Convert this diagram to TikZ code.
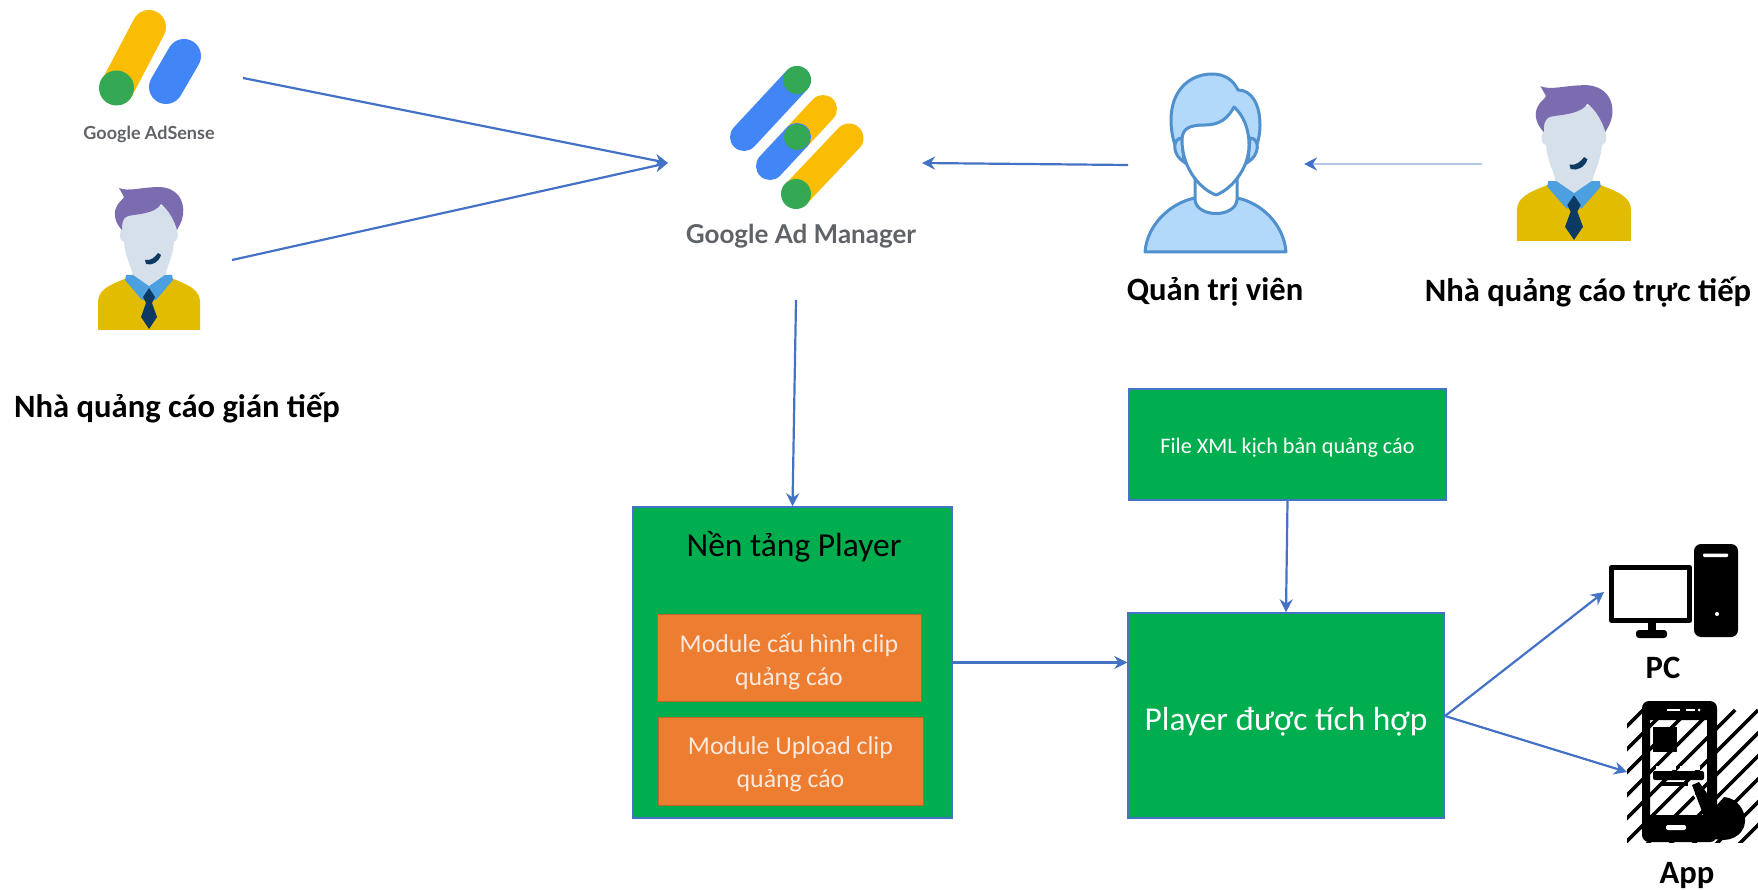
\documentclass[tikz,border=0pt]{standalone}
\usepackage{fontspec}
\setmainfont{Carlito}
\newfontfamily\logofont{Lato}
\usetikzlibrary{arrows.meta}
\definecolor{linkblue}{HTML}{4472C4}
\definecolor{palelink}{HTML}{B4C7E7}
\definecolor{boxgreen}{HTML}{00AD4F}
\definecolor{boxorange}{HTML}{ED7D31}
\definecolor{orangeedge}{HTML}{B9652A}
\definecolor{gyellow}{HTML}{FBBC04}
\definecolor{gblue}{HTML}{4285F4}
\definecolor{ggreen}{HTML}{34A853}
\definecolor{loggray}{HTML}{5F6368}
\definecolor{shirt}{HTML}{E2BC00}
\definecolor{collar}{HTML}{4DA0E0}
\definecolor{tie}{HTML}{0D3A63}
\definecolor{skin}{HTML}{D6E0EB}
\definecolor{hair}{HTML}{7B6BAF}
\definecolor{adminline}{HTML}{4F90CD}
\definecolor{adminfill}{HTML}{B3D9FA}
\definecolor{softwhite}{HTML}{FBE9DD}
\tikzset{
  x=1pt,y=-1pt,
  link/.style={draw=linkblue,line width=2.2pt,-{Stealth[length=13pt,width=13pt]}},
  palearrow/.style={draw=palelink,line width=2.6pt,-{Stealth[length=13pt,width=13pt,color=linkblue]}},
  greenbox/.style={draw=linkblue,line width=1.4pt,fill=boxgreen,inner sep=0pt},
  orangebox/.style={draw=orangeedge,line width=1pt,fill=boxorange,inner sep=0pt,
    text=softwhite,align=center,font=\fontsize{25.8}{33}\selectfont},
  heading/.style={font=\bfseries\fontsize{32.6}{38}\selectfont,text=black,inner sep=0pt},
  capsule/.style={line width=#1,line cap=round},
  person/.pic={
    \fill[shirt] (-51,0) -- (-51,-28) .. controls (-51,-40) and (-40,-45) .. (-22,-52)
      -- (22,-52) .. controls (40,-45) and (51,-40) .. (51,-28) -- (51,0) -- cycle;
    \fill[collar] (-23,-55) -- (23,-55) -- (24,-50) -- (7,-30) -- (-7,-30) -- (-24,-50) -- cycle;
    \fill[skin] (-28,-100) -- (-27,-118) .. controls (-15,-128) and (15,-128) .. (26,-118)
      -- (28,-100) .. controls (30,-92) and (28,-90) .. (25,-88) .. controls (24,-75) and (19,-65) .. (17,-58)
      -- (17,-56) -- (0,-44) -- (-17,-56) -- (-17,-58) .. controls (-19,-65) and (-24,-75) .. (-25,-88)
      .. controls (-29,-90) and (-30,-92) .. (-28,-100) -- cycle;
    \fill[hair] (-30,-142) .. controls (-20,-138) and (-8,-143) .. (11,-143)
      .. controls (28,-142) and (36,-130) .. (34,-115) .. controls (33,-108) and (30,-104) .. (28,-100)
      .. controls (26,-108) and (20,-120) .. (12,-126) .. controls (6,-116) and (-12,-116) .. (-21,-114)
      .. controls (-27,-112) and (-27,-106) .. (-27,-100) .. controls (-33,-106) and (-36,-115) .. (-33,-122)
      .. controls (-31,-128) and (-26,-130) .. (-25,-133) -- cycle;
    \fill[tie] (-4,-70) .. controls (2,-69) and (6,-73) .. (9,-77) -- (12,-75)
      .. controls (10,-68) and (3,-64) .. (-3,-66) -- cycle;
    \fill[tie] (0,-42) -- (6,-33) -- (3,-27) -- (8,-13) -- (0,-1) -- (-8,-13) -- (-3,-27) -- (-6,-33) -- cycle;
  }
}
\begin{document}
\begin{tikzpicture}
\useasboundingbox (0,0) rectangle (1758,890);
% AdSense logo
\draw[gyellow,capsule=34pt] (149,27) -- (117,88);
\draw[gblue,capsule=34pt] (184,56) -- (166,87);
\fill[ggreen] (116.5,88) circle (17.5);
\node[font=\logofont\bfseries\fontsize{18}{22}\selectfont,text=loggray,inner sep=0pt] (adsense) at (149,134) {Google AdSense};
% indirect advertiser
\pic at (149,330) {person};
\node[heading,anchor=west] (indirect) at (14,408) {Nhà quảng cáo gián tiếp};
% Ad Manager logo
\draw[gblue,capsule=28pt] (797,80) -- (744,137);
\draw[gyellow,capsule=28pt] (823,109) -- (797,137);
\draw[gblue,capsule=28pt] (797,137) -- (770,166);
\draw[gyellow,capsule=29pt] (849,138) -- (796,194);
\fill[ggreen] (797,80) circle (14);
\fill[ggreen] (797,137) circle (13);
\fill[ggreen] (796,194) circle (15);
\node[font=\logofont\bfseries\fontsize{26}{33}\selectfont,text=loggray,inner sep=0pt] (gam) at (801,236) {Google Ad Manager};
% admin
\draw[adminline,line width=3pt,fill=adminfill,line join=round]
  (1145,252) .. controls (1147,225) and (1170,203) .. (1195,198)
  -- (1237,198) .. controls (1262,203) and (1284,225) .. (1286,252) -- cycle;
\draw[adminline,line width=3pt,fill=white] (1195,180) -- (1195,200) .. controls (1197,218) and (1235,218) .. (1237,200) -- (1237,180) -- cycle;
\draw[adminline,line width=3pt,fill=adminfill,line join=round]
  (1183,160) .. controls (1175,150) and (1171,135) .. (1171,120)
  .. controls (1171,90) and (1190,74) .. (1212,74)
  .. controls (1225,74) and (1233,80) .. (1238,90)
  .. controls (1252,90) and (1260,105) .. (1260,125)
  .. controls (1260,140) and (1255,152) .. (1249,160) -- cycle;
\draw[adminline,line width=3pt,fill=adminfill] (1182,138) .. controls (1172,138) and (1172,155) .. (1184,162) -- cycle;
\draw[adminline,line width=3pt,fill=adminfill] (1250,138) .. controls (1260,138) and (1260,155) .. (1248,162) -- cycle;
\draw[adminline,line width=3pt,fill=white,line join=round]
  (1182,140) .. controls (1182,128) and (1190,125) .. (1205,125)
  .. controls (1220,125) and (1228,118) .. (1234,107)
  .. controls (1243,115) and (1249,128) .. (1249,145)
  .. controls (1249,170) and (1230,190) .. (1216,195)
  .. controls (1202,190) and (1182,170) .. (1182,140) -- cycle;
\node[heading,text=black] (admin) at (1215,292) {Quản trị viên};
% direct advertiser
\pic[xscale=1.12,yscale=1.09] at (1574,241) {person};
\node[heading] (direct) at (1588,292) {Nhà quảng cáo trực tiếp};
% boxes
\node[greenbox,minimum width=319pt,minimum height=311pt] (platform) at (792.5,662.5) {};
\node[font=\fontsize{33.5}{40}\selectfont,text=black,inner sep=0pt] (ptitle) at (794,547) {Nền tảng Player};
\node[orangebox,minimum width=264pt,minimum height=87pt] (modcfg) at (789,657.5) {\rule{0pt}{28pt}Module cấu hình clip\\quảng cáo};
\node[orangebox,minimum width=265pt,minimum height=88pt] (modup) at (790.5,761) {\rule{0pt}{25pt}Module Upload clip\\quảng cáo};
\node[greenbox,minimum width=317pt,minimum height=111pt,text=white,font=\fontsize{22.2}{25}\selectfont,text height=21pt,text depth=4pt] (xml) at (1287.5,444.5) {File XML kịch bản quảng cáo};
\node[greenbox,minimum width=316pt,minimum height=205pt,text=white,font=\fontsize{33.4}{37}\selectfont,text height=33pt,text depth=4pt] (integrated) at (1286,715.5) {Player được tích hợp};
% PC
\draw[black,line width=5pt,line join=round,fill=white] (1611.5,567.5) rectangle (1689.5,620.5);
\fill[black] (1648,620) rectangle (1656,632);
\fill[black,rounded corners=3pt] (1636,630) rectangle (1667,638);
\fill[black,rounded corners=7pt] (1694,544) rectangle (1738,637);
\fill[white,rounded corners=1pt] (1703,553.5) rectangle (1728,557);
\fill[white] (1717,614) circle (2);
\node[heading] (pclabel) at (1663,668) {PC};
% App
\begin{scope}
  \clip (1627,701) rectangle (1758,842);
  \foreach \k in {0,23,...,368} {
    \draw[black,line width=3.5pt] (1610+\k,720) ++(-150,150) -- ++(160,-160);
  }
\end{scope}
\fill[black,even odd rule,rounded corners=7pt] (1642,701) rectangle (1717,842)
  [sharp corners] (1650,720) rectangle (1707,815);
\fill[black] (1653,727) rectangle (1677,752);
\fill[white] (1667,709) rectangle (1680,711);
\fill[white] (1686,709) rectangle (1695,711);
\fill[white] (1699,710) circle (1.5);
\fill[white,rounded corners=2pt] (1666,825) rectangle (1686,830);
\fill[white] (1656,766) rectangle (1676,770);
\fill[white] (1680,766) rectangle (1700,770);
\fill[black,rounded corners=2pt] (1653,771) rectangle (1704,780);
\fill[black] (1660,782) rectangle (1688,786);
\draw[white,line width=2pt] (1689,787) -- (1708,815);
\fill[black] (1692,785) -- (1699,782) -- (1716,806) -- (1724,797)
  .. controls (1738,798) and (1746,812) .. (1745,822)
  .. controls (1744,836) and (1728,844) .. (1712,838) -- cycle;
\node[heading] (applabel) at (1687,875) {App};
% free ends of connectors
\coordinate (adsenseout) at (243,78);
\coordinate (indirectout) at (232,260);
\coordinate (gamin) at (668,163);
\coordinate (gamright) at (922,163);
\coordinate (adminleft) at (1128,165);
\coordinate (adminright) at (1304,164);
\coordinate (directleft) at (1482,164);
\coordinate (gamout) at (796,300);
\coordinate (pcin) at (1604,592);
\coordinate (appin) at (1627,772);
\coordinate (fork) at (1445,716);
\draw[link] (adsenseout) -- (gamin);
\draw[link] (indirectout) -- (gamin);
\draw[link] (adminleft) -- (gamright);
\draw[palearrow] (directleft) -- (adminright);
\draw[link] (gamout) -- (platform.north);
\draw[link] (xml.south) -- (integrated.north);
\draw[link] (platform.east) -- (integrated.west |- platform.east);
\draw[link] (fork) -- (pcin);
\draw[link] (fork) -- (appin);
\end{tikzpicture}
\end{document}
